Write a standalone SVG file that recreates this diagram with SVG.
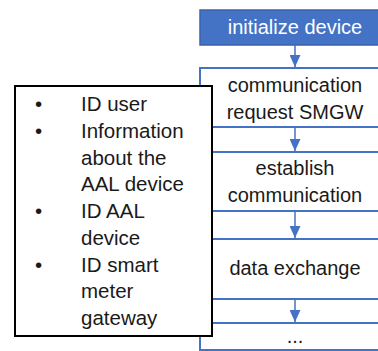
<svg xmlns="http://www.w3.org/2000/svg" width="378" height="351" viewBox="0 0 378 351">
<defs>
<style>
.t{font-family:"Liberation Sans",Arial,sans-serif;font-size:20px;fill:#1a1a1a}
.l{font-size:20.5px}
.c{text-anchor:middle}
.box{fill:#fff;stroke:#4472C4;stroke-width:2}
.ln{stroke:#4472C4;stroke-width:1.5;fill:none}
</style>
<marker id="ah" viewBox="0 0 12 11" refX="12" refY="5.5" markerWidth="12" markerHeight="11" markerUnits="userSpaceOnUse" orient="auto">
<path d="M0,0L12,5.5L0,11z" fill="#4472C4"/>
</marker>
</defs>
<rect width="378" height="351" fill="#fff"/>
<g id="container"><rect class="box" x="200" y="68" width="190" height="282"/></g>
<g id="n0"><rect x="200" y="10" width="190" height="35" fill="#4472C4" stroke="#3A63AE" stroke-width="1.5"/><text class="t c" x="295" y="34" style="fill:#fff">initialize device</text></g>
<g id="n1"><rect class="box" x="200" y="68" width="190" height="59"/><text class="t c" x="295" y="92">communication</text><text class="t c" x="295" y="119">request SMGW</text></g>
<g id="n2"><rect class="box" x="200" y="152" width="190" height="59"/><text class="t c" x="295" y="175">establish</text><text class="t c" x="295" y="202">communication</text></g>
<g id="n3"><rect class="box" x="200" y="239" width="190" height="60"/><text class="t c" x="295" y="275">data exchange</text></g>
<g id="n4"><rect class="box" x="200" y="323" width="190" height="27"/><text class="t c" x="295" y="343">...</text></g>
<g id="connectors">
<line class="ln" x1="295" y1="45" x2="295" y2="67" marker-end="url(#ah)"/>
<line class="ln" x1="295" y1="127" x2="295" y2="151" marker-end="url(#ah)"/>
<line class="ln" x1="295" y1="211" x2="295" y2="238" marker-end="url(#ah)"/>
<line class="ln" x1="295" y1="299" x2="295" y2="322" marker-end="url(#ah)"/>
</g>
<g id="info">
<rect x="15" y="86" width="197" height="250" fill="#fff" stroke="#000" stroke-width="2"/>
<g class="t l">
<text x="35" y="111">•</text><text x="81" y="111">ID user</text>
<text x="35" y="138">•</text><text x="81" y="138">Information</text>
<text x="81" y="165">about the</text>
<text x="81" y="191">AAL device</text>
<text x="35" y="218">•</text><text x="81" y="218">ID AAL</text>
<text x="81" y="245">device</text>
<text x="35" y="272">•</text><text x="81" y="272">ID smart</text>
<text x="81" y="298">meter</text>
<text x="81" y="325">gateway</text>
</g>
</g>
</svg>
